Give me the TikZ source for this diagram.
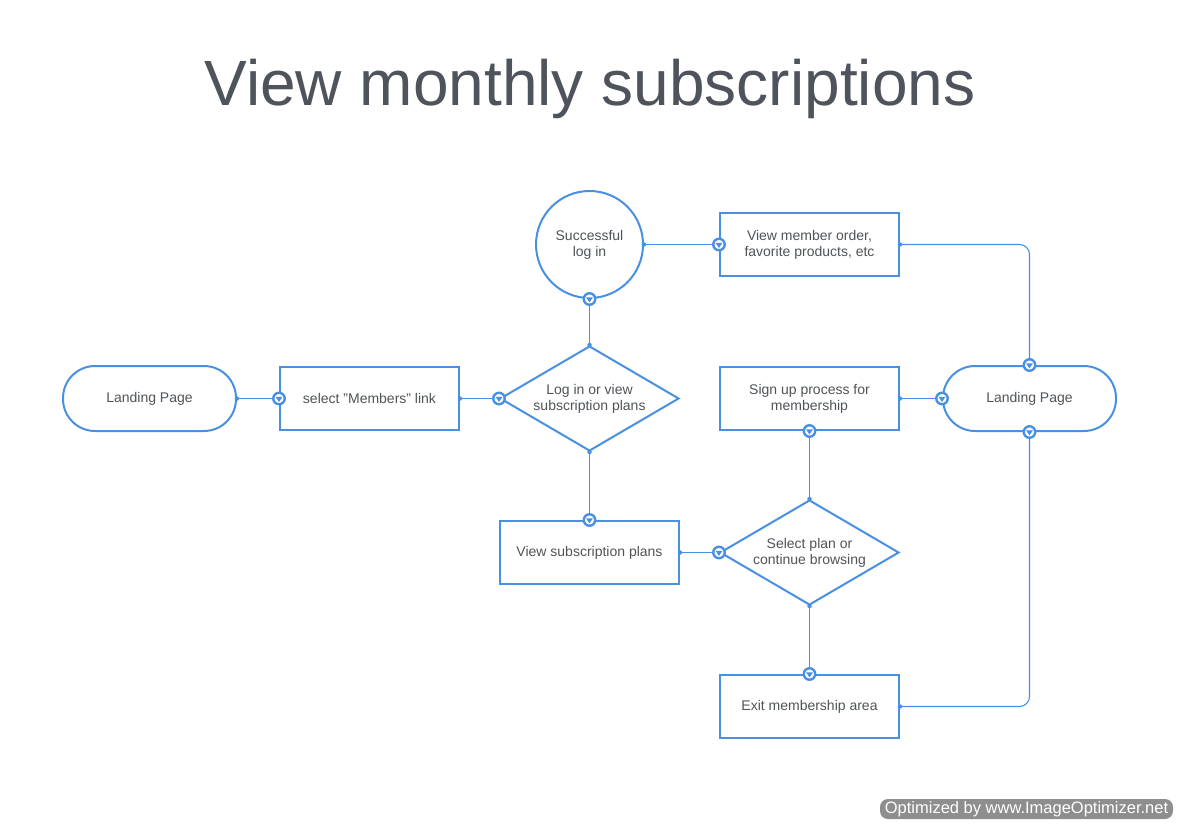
\documentclass[tikz,border=0pt]{standalone}
\usepackage{fontspec}
\setmainfont{Liberation Sans}
\usetikzlibrary{shapes.geometric}
\definecolor{flowblue}{HTML}{4A90E2}
\definecolor{flowtext}{HTML}{505458}
\definecolor{titlegray}{HTML}{4E535C}
\definecolor{wmgray}{HTML}{8E8E8E}

\tikzset{
  boxtext/.style={text=flowtext, align=center, inner sep=0pt,
    font=\fontsize{14}{16}\selectfont},
  stepbox/.style={boxtext, draw=flowblue, line width=2pt, fill=white,
    minimum width=179, minimum height=63},
  terminal/.style={boxtext, draw=flowblue, line width=2pt, fill=white,
    rounded corners=32, minimum width=173, minimum height=65},
  choice/.style={boxtext, diamond, aspect=1.7, draw=flowblue, line width=2pt,
    fill=white, minimum width=179, minimum height=105},
  state/.style={boxtext, circle, draw=flowblue, line width=2pt, fill=white,
    minimum size=107},
  link/.style={draw=flowblue, line width=1.1pt},
  startdot/.style={circle, fill=flowblue, inner sep=0pt, minimum size=4.5},
  endpin/.style={circle, draw=flowblue, line width=2.4pt, fill=white,
    inner sep=0pt, minimum size=11.5,
    path picture={\fill[flowblue]
      ([shift={(-3.4,-1.6)}]path picture bounding box.center) --
      ([shift={(3.4,-1.6)}]path picture bounding box.center) --
      ([shift={(0,3.4)}]path picture bounding box.center) -- cycle;}},
}

\begin{document}
\begin{tikzpicture}[x=1pt, y=-1pt]
\useasboundingbox (0,0) rectangle (1180,824);

% --- Title ---
\node[text=titlegray, font=\fontsize{64}{70}\selectfont] (title)
  at (590,89) {View monthly subscriptions};

% --- Shapes (pixel coordinates of the centres) ---
\node[terminal] (land1) at (149.5,398.5) {Landing Page};
\node[stepbox] (members) at (369.5,398.5) {select "Members" link};
\node[choice] (login) at (589.5,398.5) {Log in or view\\subscription plans};
\node[state] (success) at (589.5,244.5) {Successful\\log in};
\node[stepbox] (orders) at (809.5,244.5) {View member order,\\favorite products, etc};
\node[stepbox] (signup) at (809.5,398.5) {Sign up process for\\membership};
\node[terminal] (land2) at (1029.5,398.5) {Landing Page};
\node[stepbox] (plans) at (589.5,552.5) {View subscription plans};
\node[choice] (select) at (809.5,552.5) {Select plan or\\continue browsing};
\node[stepbox] (leave) at (809.5,706.5) {Exit membership area};

% --- Connectors ---
\draw[link] (land1.east) -- (members.west);
\draw[link] (members.east) -- (login.west);
\draw[link] (login.north) -- (success.south);
\draw[link] (success.east) -- (orders.west);
\draw[link, rounded corners=10] (orders.east) -| (land2.north);
\draw[link] (signup.east) -- (land2.west);
\draw[link] (select.north) -- (signup.south);
\draw[link] (login.south) -- (plans.north);
\draw[link] (plans.east) -- (select.west);
\draw[link] (select.south) -- (leave.north);
\draw[link, rounded corners=10] (leave.east) -| (land2.south);

% --- Start dots ---
\foreach \a [count=\i] in {land1.east, members.east, login.north, success.east,
    orders.east, signup.east, select.north, login.south, plans.east,
    select.south, leave.east}
  \node[startdot] (dot\i) at (\a) {};

% --- End markers ---
\foreach \a [count=\i] in {members.west, login.west, success.south, orders.west,
    land2.north, land2.west, signup.south, plans.north, select.west,
    leave.north, land2.south}
  \node[endpin] (pin\i) at (\a) {};

% --- Watermark ---
\node[fill=wmgray, rounded corners=8, text=white, inner sep=0pt,
  minimum width=293, minimum height=20,
  font=\fontsize{16.5}{18}\selectfont] (stamp) at (1026.5,809)
  {Optimized by www.ImageOptimizer.net};

\end{tikzpicture}
\end{document}
